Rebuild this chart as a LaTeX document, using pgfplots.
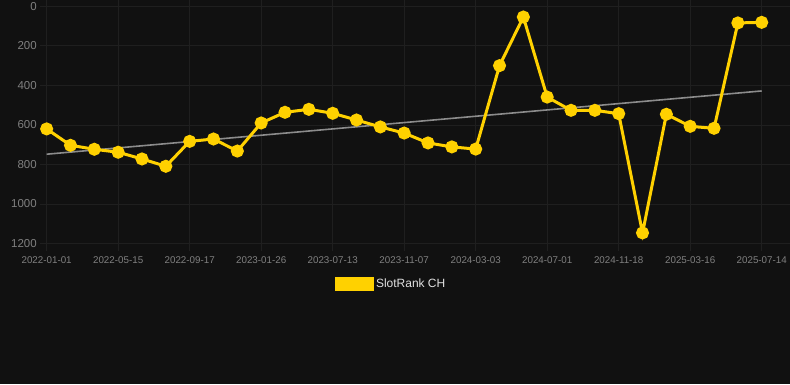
\documentclass[border=0pt]{standalone}
\usepackage{pgfplots}
\pgfplotsset{compat=1.18}
\usetikzlibrary{backgrounds}
\usepackage{fontspec}
\setmainfont{Liberation Sans}
\definecolor{bg}{HTML}{111111}
\definecolor{gold}{HTML}{FFD100}
\definecolor{gridc}{HTML}{1F1F1F}
\definecolor{tickc}{HTML}{808080}
\definecolor{trendc}{HTML}{8C8C8C}
\begin{document}
\begin{tikzpicture}
\begin{axis}[
  name=ax, anchor=south west, at={(0pt,0pt)}, scale only axis,
  width=750pt, height=243.3pt,
  xmin=-0.28, xmax=31.17, ymin=-30, ymax=1200, y dir=reverse,
  axis line style={draw=none},
  xtick pos=left, ytick pos=left,
  xtick align=outside,
  xtick style={draw=gridc, line width=0.8pt, /pgfplots/major tick length=7pt},
  ytick style={draw=none},
  ytick={0,200,...,1200},
  xtick={0,3,...,30},
  xticklabels={2022-01-01,2022-05-15,2022-09-17,2023-01-26,2023-07-13,2023-11-07,2024-03-03,2024-07-01,2024-11-18,2025-03-16,2025-07-14},
  grid=major, grid style={gridc, line width=0.8pt},
  /pgf/number format/assume math mode=true,
  /pgf/number format/1000 sep={},
  yticklabel style={font=\fontsize{11.5}{13}\selectfont, text=tickc, inner sep=0pt, xshift=-3pt},
  xticklabel style={font=\fontsize{9.8}{11}\selectfont, text=tickc, inner sep=0pt, yshift=-8.5pt},
  clip=false,
  legend style={draw=none, fill=none, text=white!88!black, font=\fontsize{12}{14}\selectfont,
    at={(0.4685,-0.167)}, anchor=center, inner sep=0pt},
  legend image code/.code={\fill[gold] (2pt,-5.7pt) rectangle (38pt,5.7pt);},
]
\addplot[trendc, line width=1.6pt, forget plot] coordinates {(0,748) (30,428)};
\addplot[gold, line width=3pt, mark=*, mark size=5pt, mark options={fill=gold, draw=none}] coordinates {
(0,620) (1,703) (2,723) (3,738) (4,772) (5,809) (6,683) (7,671) (8,732) (9,590)
(10,536) (11,521) (12,541) (13,575) (14,610) (15,641) (16,691) (17,711) (18,722)
(19,300) (20,54) (21,459) (22,526) (23,526) (24,543) (25,1146) (26,546) (27,607)
(28,617) (29,84) (30,81)};
\addlegendentry{SlotRank CH}
\end{axis}
\begin{scope}[on background layer]
\fill[bg] ([xshift=-40pt,yshift=-140.7pt]ax.south west) rectangle ([xshift=750pt,yshift=243.3pt]ax.south west);
\end{scope}
\useasboundingbox ([xshift=-40pt,yshift=-140.7pt]ax.south west) rectangle ([xshift=750pt,yshift=243.3pt]ax.south west);
\end{tikzpicture}
\end{document}
